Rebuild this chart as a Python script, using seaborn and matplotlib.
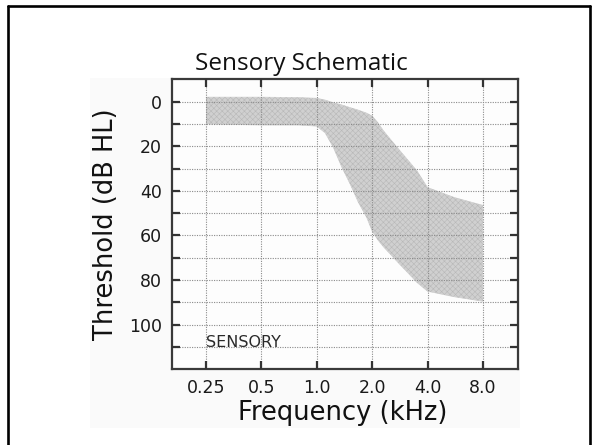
import matplotlib
matplotlib.use("Agg")
import matplotlib.pyplot as plt
from matplotlib.lines import Line2D
from matplotlib.patches import Rectangle
import seaborn as sns
import pandas as pd

# ---- data ----
tick_freqs = [0.25, 0.5, 1.0, 2.0, 4.0, 8.0]
tick_labels = ["0.25", "0.5", "1.0", "2.0", "4.0", "8.0"]
major_db = [0, 20, 40, 60, 80, 100]
minor_db = [10, 30, 50, 70, 90, 110]

band_freq = [0.25, 0.5, 0.8, 1.0, 1.11, 1.23, 1.37, 1.52, 1.68, 1.87, 2.0,
             2.15, 2.3, 2.55, 2.83, 3.15, 3.5, 4.0, 5.6, 8.0]
band_top = [-2, -2, -1.8, -1.5, -0.7, 0.5, 1.5, 2.7, 3.8, 5.2, 6.5,
            9.5, 13, 17.5, 22, 26.5, 31, 38.5, 43, 46.5]
band_bottom = [10, 10.5, 10.5, 11, 14, 20.5, 29.5, 37, 45, 52, 58,
               62, 65, 69, 73, 77, 81, 85, 87.5, 89.5]

title = "Sensory Schematic"
xlabel = "Frequency (kHz)"
ylabel = "Threshold (dB HL)"
note = "SENSORY"

df = pd.DataFrame({"freq": band_freq, "top": band_top, "bottom": band_bottom})

sns.set_theme(style="white")
plt.rcParams["font.family"] = ["DejaVu Sans"]
plt.rcParams["hatch.linewidth"] = 0.4

fig = plt.figure(figsize=(5.94, 4.45), dpi=100)
fig.patch.set_facecolor("white")

# faint background of the embedded picture
fig.add_artist(Rectangle((0.1515, 0.0382), 0.724, 0.7865, transform=fig.transFigure,
                         facecolor="#fafafa", edgecolor="none", zorder=0))

ax = fig.add_axes([0.2891, 0.1701, 0.5835, 0.6517])
ax.set_facecolor("#fdfdfd")

sns.lineplot(data=df, x="freq", y="top", ax=ax, color="#cfcfcf", lw=0.5, zorder=1)
sns.lineplot(data=df, x="freq", y="bottom", ax=ax, color="#cfcfcf", lw=0.5, zorder=1)
ax.fill_between(df["freq"], df["top"], df["bottom"], facecolor="#d0d0d0",
                edgecolor="#b8b8b8", hatch="xxxxxx", linewidth=0, zorder=1)

ax.set_xscale("log", base=2)
ax.set_xlim(0.25 * 2 ** -0.62, 8 * 2 ** 0.64)
ax.set_ylim(120, -10)
ax.set_xticks(tick_freqs)
ax.set_xticklabels(tick_labels)
ax.xaxis.set_minor_locator(matplotlib.ticker.NullLocator())
ax.set_yticks(major_db)
ax.set_yticks(minor_db, minor=True)

ax.set_axisbelow(False)
ax.grid(True, which="major", axis="x", color="#8a8a8a", linestyle=(0, (1, 1.2)), linewidth=0.8)
ax.grid(True, which="both", axis="y", color="#8a8a8a", linestyle=(0, (1, 1.2)), linewidth=0.8)

ax.tick_params(which="both", direction="in", length=6, width=1.6, color="#333333",
               top=True, right=True, bottom=True, left=True,
               labelsize=12.5, labelcolor="#1a1a1a", pad=7)
for sp in ax.spines.values():
    sp.set_color("#3a3a3a")
    sp.set_linewidth(1.6)
    sp.set_visible(True)

ax.set_xlabel(xlabel, fontsize=18.5, color="#111111")
ax.set_ylabel(ylabel, fontsize=18.5, color="#111111")
ax.xaxis.set_label_coords(0.493, -0.105)
ax.yaxis.set_label_coords(-0.152, 0.5)

ax.text(0.25, 108, note, ha="left", va="center", fontsize=11.5, color="#2a2a2a", zorder=4)

fig.text(0.507, 0.8427, title, ha="center", va="baseline", fontsize=17.5,
         color="#111111", family=["Open Sans", "DejaVu Sans"])

# slide border
for xs, ys in [([0.0135, 0.0135], [0.0, 0.9865]),
               ([0.0135, 0.9933], [0.9865, 0.9865]),
               ([0.9933, 0.9933], [0.0, 0.9865])]:
    fig.add_artist(Line2D(xs, ys, transform=fig.transFigure, color="black", lw=1.9))

fig.savefig("out.png", dpi=100, facecolor="white")
